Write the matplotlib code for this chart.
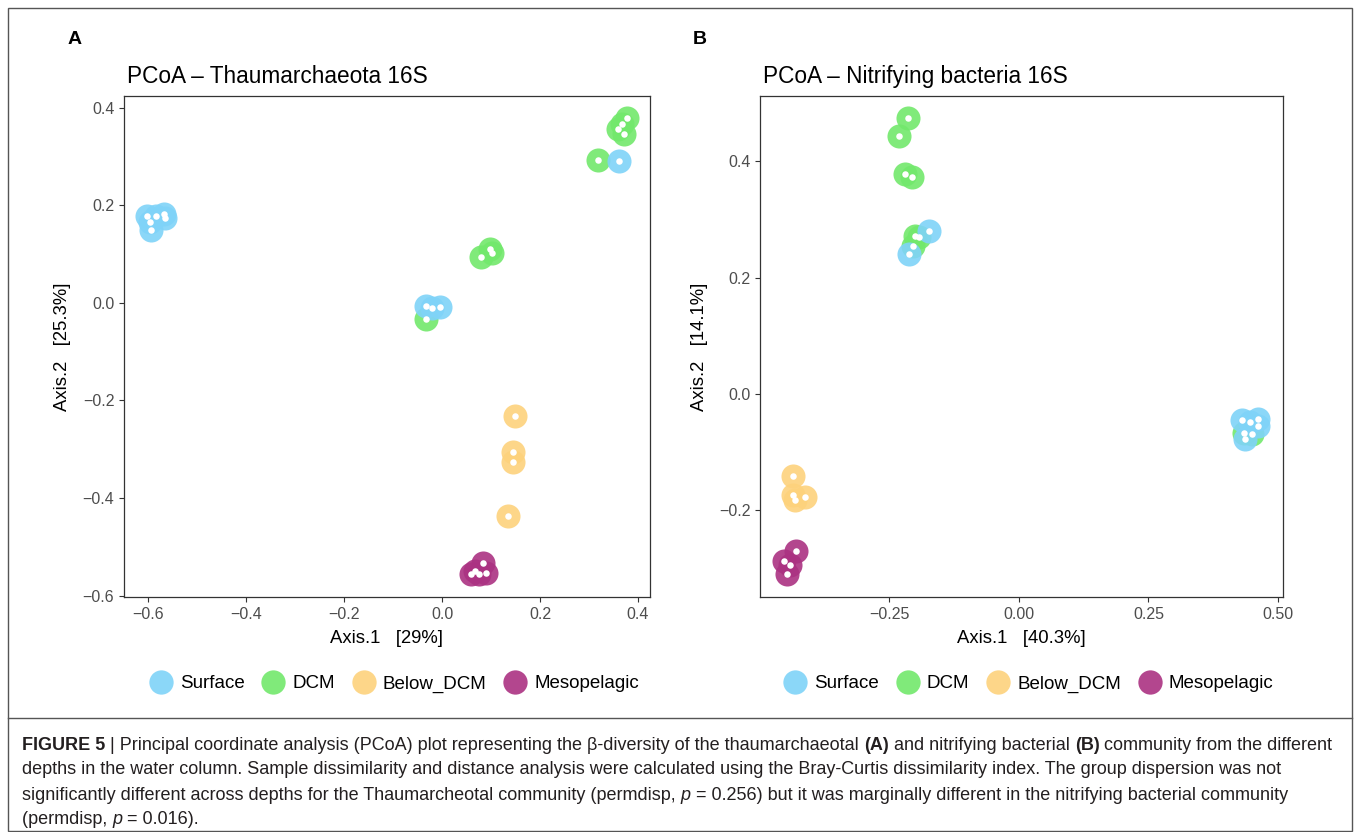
import matplotlib
matplotlib.use("Agg")
import matplotlib.pyplot as plt
from matplotlib.lines import Line2D
from matplotlib.patches import Rectangle

plt.rcParams['font.family'] = ['Liberation Sans', 'DejaVu Sans']

# groups and colours
groups = ['Surface', 'DCM', 'Below_DCM', 'Mesopelagic']
colors = ['#7fd3f8', '#72e86c', '#fdd27c', '#ab3282']

# panel A: Thaumarchaeota 16S
a_x = {
    'Surface': [-0.602, -0.584, -0.568, -0.565, -0.595, -0.593, -0.032, -0.021, -0.005, 0.362],
    'DCM': [-0.033, 0.079, 0.097, 0.103, 0.319, 0.377, 0.368, 0.360, 0.371],
    'Below_DCM': [0.148, 0.145, 0.145, 0.134],
    'Mesopelagic': [0.084, 0.060, 0.076, 0.089, 0.068],
}
a_y = {
    'Surface': [0.179, 0.177, 0.182, 0.173, 0.165, 0.149, -0.006, -0.010, -0.009, 0.291],
    'DCM': [-0.034, 0.093, 0.110, 0.103, 0.293, 0.378, 0.366, 0.356, 0.347],
    'Below_DCM': [-0.232, -0.305, -0.327, -0.437],
    'Mesopelagic': [-0.534, -0.555, -0.556, -0.553, -0.550],
}

# panel B: nitrifying bacteria 16S
b_x = {
    'Surface': [-0.212, -0.173, 0.431, 0.445, 0.461, 0.462, 0.436],
    'DCM': [-0.213, -0.230, -0.220, -0.206, -0.201, -0.192, -0.203, 0.434, 0.449],
    'Below_DCM': [-0.435, -0.436, -0.431, -0.413],
    'Mesopelagic': [-0.429, -0.453, -0.442, -0.446],
}
b_y = {
    'Surface': [0.241, 0.280, -0.045, -0.049, -0.044, -0.055, -0.078],
    'DCM': [0.474, 0.443, 0.378, 0.373, 0.272, 0.270, 0.255, -0.068, -0.069],
    'Below_DCM': [-0.142, -0.174, -0.182, -0.178],
    'Mesopelagic': [-0.270, -0.287, -0.294, -0.310],
}

panels = [
    ('A', 'PCoA \u2013 Thaumarchaeota 16S', a_x, a_y, 'Axis.1   [29%]', 'Axis.2   [25.3%]',
     (-0.649, 0.4245), (-0.603, 0.424), [-0.6, -0.4, -0.2, 0.0, 0.2, 0.4],
     ['\u22120.6', '\u22120.4', '\u22120.2', '0.0', '0.2', '0.4'],
     [-0.6, -0.4, -0.2, 0.0, 0.2, 0.4],
     ['\u22120.6', '\u22120.4', '\u22120.2', '0.0', '0.2', '0.4']),
    ('B', 'PCoA \u2013 Nitrifying bacteria 16S', b_x, b_y, 'Axis.1   [40.3%]', 'Axis.2   [14.1%]',
     (-0.499, 0.5096), (-0.3498, 0.5126), [-0.25, 0.0, 0.25, 0.5],
     ['\u22120.25', '0.00', '0.25', '0.50'],
     [-0.2, 0.0, 0.2, 0.4],
     ['\u22120.2', '0.0', '0.2', '0.4']),
]

W, H = 1360, 832
fig = plt.figure(figsize=(W / 100, H / 100), dpi=100)

ax_boxes = [(124, 96, 650, 597), (760, 96, 1283, 597)]
letter_x = [68, 693]

draw_order = ['Mesopelagic', 'Below_DCM', 'DCM', 'Surface']

for (letter, title, px, py, xl, yl, xlim, ylim, xt, xtl, yt, ytl), box, lx in zip(panels, ax_boxes, letter_x):
    l, t, r, b = box
    ax = fig.add_axes([l / W, 1 - b / H, (r - l) / W, (b - t) / H])
    for g in draw_order:
        c = colors[groups.index(g)]
        ax.scatter(px[g], py[g], s=300, color=c, alpha=0.9, linewidths=0, zorder=2)
    for g in draw_order:
        ax.scatter(px[g], py[g], s=22, color='white', linewidths=0, zorder=3)
    ax.set_xlim(xlim)
    ax.set_ylim(ylim)
    ax.set_xticks(xt)
    ax.set_xticklabels(xtl)
    ax.set_yticks(yt)
    ax.set_yticklabels(ytl)
    ax.tick_params(colors='#333333', labelcolor='#4d4d4d', labelsize=11.5, length=3.5, width=0.8)
    for sp in ax.spines.values():
        sp.set_color('#333333')
        sp.set_linewidth(0.9)
    ax.set_xlabel(xl, fontsize=13.3, labelpad=6)
    ax.set_ylabel(yl, fontsize=13.3, labelpad=8)
    ax.set_title(title, fontsize=16.3, loc='left', x=0.005, pad=9)
    fig.text(lx / W, 1 - 40 / H, letter, fontsize=14, fontweight='bold', va='center')

    handles = [Line2D([], [], marker='o', linestyle='none', markersize=17.5,
                      markerfacecolor=c, markeredgewidth=0, alpha=0.9) for c in colors]
    fig.legend(handles, groups, loc='center', ncol=4, frameon=False, fontsize=13.5,
               bbox_to_anchor=((l + r) / 2 / W + 0.005, 1 - 684 / H),
               handletextpad=0.35, columnspacing=0.9, handlelength=1.3)

# outer frame and caption separator
fig.patches.append(Rectangle((8 / W, 1 - 831 / H), 1344 / W, 823 / H, transform=fig.transFigure,
                             fill=False, edgecolor='#555555', linewidth=1.0))
fig.add_artist(Line2D([8 / W, 1352 / W], [1 - 718 / H, 1 - 718 / H], color='#555555', linewidth=1.0))

# caption, drawn piece by piece so bold / italic parts fit in
cap_font = ['Liberation Sans', 'DejaVu Sans']
cap_lines = [
    [('FIGURE 5', 'bold', 'normal'), (' | Principal coordinate analysis (PCoA) plot representing the \u03b2-diversity of the thaumarchaeotal ', 'normal', 'normal'),
     ('(A)', 'bold', 'normal'), (' and nitrifying bacterial ', 'normal', 'normal'), ('(B)', 'bold', 'normal'),
     (' community from the different', 'normal', 'normal')],
    [('depths in the water column. Sample dissimilarity and distance analysis were calculated using the Bray-Curtis dissimilarity index. The group dispersion was not', 'normal', 'normal')],
    [('significantly different across depths for the Thaumarcheotal community (permdisp, ', 'normal', 'normal'), ('p', 'normal', 'italic'),
     (' = 0.256) but it was marginally different in the nitrifying bacterial community', 'normal', 'normal')],
    [('(permdisp, ', 'normal', 'normal'), ('p', 'normal', 'italic'), (' = 0.016).', 'normal', 'normal')],
]
cap_y = [745, 770, 795, 819]
renderer = fig.canvas.get_renderer()


def draw_caption(size):
    arts = []
    right = 0
    for segs, yy in zip(cap_lines, cap_y):
        x = 22
        for txt, wt, st in segs:
            t = fig.text(x / W, 1 - yy / H, txt, family=cap_font, fontsize=size, fontweight=wt,
                         fontstyle=st, va='center', ha='left', color='#231f20')
            arts.append(t)
            x += t.get_window_extent(renderer).width
        right = max(right, x)
    return arts, right


arts, right = draw_caption(12)
for a in arts:
    a.remove()
size = 12 * (1333 - 22) / (right - 22)
draw_caption(size)

fig.savefig('out.png', dpi=100)
